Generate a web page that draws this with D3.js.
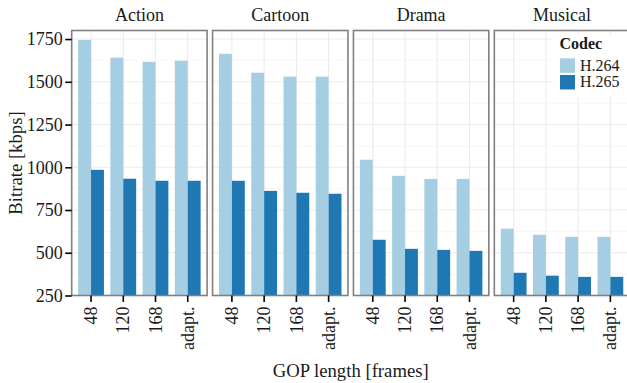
<!DOCTYPE html>
<html>
<head>
<meta charset="utf-8">
<script src="https://cdn.jsdelivr.net/npm/d3@7/dist/d3.min.js"></script>
<style>
  html, body { margin: 0; padding: 0; background: #fff; }
  svg text { font-family: "Liberation Serif", "Times New Roman", serif !important; }
</style>
</head>
<body>
<svg id="chart" width="627" height="383"></svg>
<script>
// Bitrate per genre, GOP length and codec
const genres = ["Action", "Cartoon", "Drama", "Musical"];
const gopLengths = ["48", "120", "168", "adapt."];
const codecs = ["H.264", "H.265"];
const codecColors = ["#a6cee3", "#1f78b4"];

const h264 = {
  Action:  [1745, 1641, 1617, 1623],
  Cartoon: [1664, 1553, 1530, 1530],
  Drama:   [1044,  950,  932,  932],
  Musical: [ 641,  605,  593,  593]
};
const h265 = {
  Action:  [985, 933, 921, 921],
  Cartoon: [921, 862, 851, 845],
  Drama:   [576, 523, 517, 511],
  Musical: [383, 366, 359, 359]
};

const yTicks = [250, 500, 750, 1000, 1250, 1500, 1750];
const yMinor = [375, 625, 875, 1125, 1375, 1625];

const svg = d3.select("#chart");

const plotLeft = 71.7, plotRight = 629.7, plotTop = 30.5, plotBottom = 295.5;

const facet = d3.scaleBand().domain(genres).range([plotLeft, plotRight]).paddingInner(0.039).paddingOuter(0);
const pw = facet.bandwidth();

const y = d3.scaleLinear().domain([250, 1800]).range([plotBottom, plotTop]);
const x = d3.scaleBand().domain(gopLengths).range([0, pw]).paddingInner(0.2).paddingOuter(0.2);
const xSub = d3.scaleBand().domain(codecs).range([0, x.bandwidth()]).padding(0);
const color = d3.scaleOrdinal().domain(codecs).range(codecColors);

const font = 18;
const titleFont = 18.7;
const ink = "#1a1a1a";

genres.forEach(g => {
  const p = svg.append("g").attr("transform", `translate(${facet(g)},0)`);

  p.append("rect").attr("x", 0).attr("y", plotTop).attr("width", pw).attr("height", plotBottom - plotTop).attr("fill", "#fff");

  // minor grid
  p.selectAll(".minor").data(yMinor).join("line")
    .attr("x1", 0).attr("x2", pw).attr("y1", d => y(d)).attr("y2", d => y(d))
    .attr("stroke", "#f4f4f4").attr("stroke-width", 0.8);
  // major grid
  p.selectAll(".major").data(yTicks).join("line")
    .attr("x1", 0).attr("x2", pw).attr("y1", d => y(d)).attr("y2", d => y(d))
    .attr("stroke", "#ebebeb").attr("stroke-width", 1.1);
  p.selectAll(".vgrid").data(gopLengths).join("line")
    .attr("x1", d => x(d) + x.bandwidth() / 2).attr("x2", d => x(d) + x.bandwidth() / 2)
    .attr("y1", plotTop).attr("y2", plotBottom)
    .attr("stroke", "#ebebeb").attr("stroke-width", 1.1);

  // bars
  const rows = [];
  gopLengths.forEach((l, i) => {
    rows.push({ gop: l, codec: codecs[0], value: h264[g][i] });
    rows.push({ gop: l, codec: codecs[1], value: h265[g][i] });
  });
  p.selectAll(".bar").data(rows).join("rect")
    .attr("x", d => x(d.gop) + xSub(d.codec))
    .attr("width", xSub.bandwidth())
    .attr("y", d => y(d.value))
    .attr("height", d => y(250) - y(d.value))
    .attr("fill", d => color(d.codec));

  // panel border
  p.append("rect").attr("x", 0).attr("y", plotTop).attr("width", pw).attr("height", plotBottom - plotTop)
    .attr("fill", "none").attr("stroke", "#808080").attr("stroke-width", 1.6);

  // strip title
  p.append("text").attr("x", pw / 2).attr("y", 21).attr("text-anchor", "middle")
    .attr("font-size", font).attr("fill", ink).text(g);

  // x axis
  const xa = p.append("g").attr("transform", `translate(0,${plotBottom})`)
    .call(d3.axisBottom(x).tickSize(6.5).tickPadding(4));
  xa.select(".domain").remove();
  xa.selectAll(".tick line").attr("stroke", "#000").attr("stroke-width", 1.6);
  xa.selectAll(".tick text")
    .attr("font-size", font).attr("fill", ink)
    .attr("transform", "rotate(-90)")
    .attr("text-anchor", "end")
    .attr("x", -11).attr("y", 0).attr("dy", "0.34em");
});

// y axis
const ya = svg.append("g").attr("transform", `translate(${plotLeft},0)`)
  .call(d3.axisLeft(y).tickValues(yTicks).tickFormat(d3.format("d")).tickSize(6.5).tickPadding(2.5));
ya.select(".domain").remove();
ya.selectAll(".tick line").attr("stroke", "#000").attr("stroke-width", 1.6);
ya.selectAll(".tick text").attr("font-size", font).attr("fill", ink);

// axis titles
svg.append("text").attr("transform", `translate(15,${(plotTop + plotBottom) / 2}) rotate(-90)`)
  .attr("text-anchor", "middle").attr("dy", "0.35em").attr("font-size", titleFont).attr("fill", ink)
  .text("Bitrate [kbps]");
svg.append("text").attr("x", (plotLeft + plotRight) / 2).attr("y", 377)
  .attr("text-anchor", "middle").attr("font-size", titleFont).attr("fill", ink)
  .text("GOP length [frames]");

// legend
const lg = svg.append("g").attr("transform", "translate(553,35)");
lg.append("rect").attr("x", 0).attr("y", 0).attr("width", 80).attr("height", 62).attr("fill", "#fff");
lg.append("text").attr("x", 6.5).attr("y", 14).attr("font-size", 16).attr("font-weight", "bold")
  .attr("fill", ink).text("Codec");
codecs.forEach((c, i) => {
  lg.append("rect").attr("x", 7).attr("y", 23.3 + i * 16.7).attr("width", 15).attr("height", 14.5).attr("fill", color(c));
  lg.append("text").attr("x", 27).attr("y", 35.7 + i * 16.7).attr("font-size", 16).attr("fill", ink).text(c);
});
</script>
</body>
</html>
